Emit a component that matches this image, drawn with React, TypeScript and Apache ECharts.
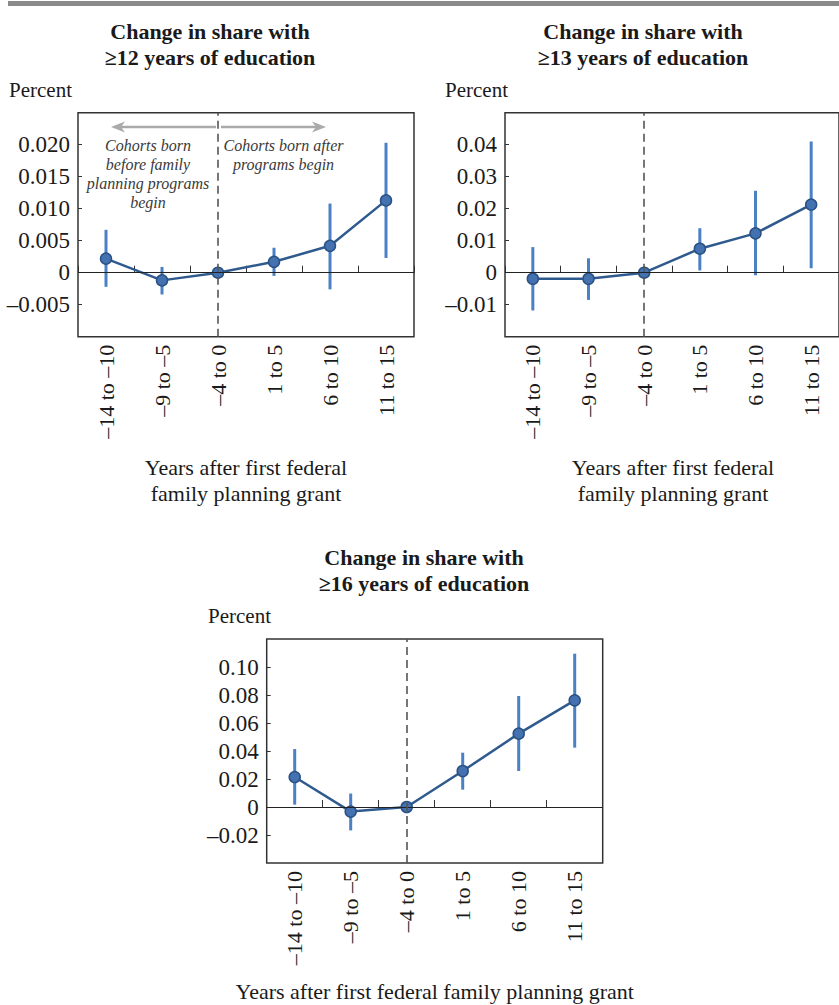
import React, { useEffect, useRef } from "react";
import * as echarts from "echarts";

const categories = ["–14 to –10", "–9 to –5", "–4 to 0", "1 to 5", "6 to 10", "11 to 15"];

const edu12 = [0.0022, -0.0012, 0, 0.0017, 0.0042, 0.0113];
const edu12Low = [-0.0022, -0.0034, 0, -0.0005, -0.0026, 0.0023];
const edu12High = [0.0067, 0.0009, 0, 0.0039, 0.0108, 0.0203];

const edu13 = [-0.0019, -0.0019, 0, 0.0075, 0.0123, 0.0213];
const edu13Low = [-0.0118, -0.0085, 0, 0.0007, -0.0008, 0.0014];
const edu13High = [0.008, 0.0045, 0, 0.0139, 0.0256, 0.041];

const edu16 = [0.0214, -0.0033, 0, 0.0257, 0.0524, 0.0762];
const edu16Low = [0.0017, -0.0167, 0, 0.0124, 0.0257, 0.0424];
const edu16High = [0.0414, 0.0096, 0, 0.0388, 0.0793, 0.1095];

const titles = [
  ["Change in share with", "≥12 years of education"],
  ["Change in share with", "≥13 years of education"],
  ["Change in share with", "≥16 years of education"],
];
const yAxisTitle = "Percent";
const xAxisTitleTwoLines = ["Years after first federal", "family planning grant"];
const xAxisTitleOneLine = "Years after first federal family planning grant";
const annotationLeft = ["Cohorts born", "before family", "planning programs", "begin"];
const annotationRight = ["Cohorts born after", "programs begin"];

const FONT = '"Liberation Serif", "Times New Roman", Times, serif';
const LINE_COLOR = "#2f5a8e";
const MARKER_FILL = "#4472b0";
const MARKER_BORDER = "#2a5184";
const BAR_COLOR = "#4a80c4";
const AXIS_COLOR = "#333";

const panels = [
  { values: edu12, low: edu12Low, high: edu12High, min: -0.01, max: 0.025, interval: 0.005, decimals: 3,
    grid: { left: 78, top: 112.7, width: 336, height: 224 } },
  { values: edu13, low: edu13Low, high: edu13High, min: -0.02, max: 0.05, interval: 0.01, decimals: 2,
    grid: { left: 505, top: 112.7, width: 336, height: 224 } },
  { values: edu16, low: edu16Low, high: edu16High, min: -0.04, max: 0.12, interval: 0.02, decimals: 2,
    grid: { left: 266.7, top: 639, width: 336, height: 224 } },
];

function txt(text: string, x: number, y: number, font: string, align = "center", fill = "#1a1a1a") {
  return {
    type: "text",
    x,
    y,
    silent: true,
    style: { text, font, fill, align, verticalAlign: "middle" },
  };
}

export default function App() {
  const ref = useRef<HTMLDivElement>(null);

  useEffect(() => {
    if (!ref.current) return;
    const chart = echarts.init(ref.current, undefined, { renderer: "svg" });

    const grids: any[] = [];
    const xAxes: any[] = [];
    const yAxes: any[] = [];
    const series: any[] = [];

    panels.forEach((p, k) => {
      grids.push({
        ...p.grid,
        show: true,
        borderColor: AXIS_COLOR,
        borderWidth: 1.5,
        backgroundColor: "transparent",
        containLabel: false,
      });
      xAxes.push({
        type: "category",
        gridIndex: k,
        data: categories,
        boundaryGap: true,
        axisLine: { show: false },
        axisTick: { show: true, inside: true, length: 7, interval: 0, lineStyle: { color: AXIS_COLOR, width: 1 } },
        axisLabel: { interval: 0, rotate: 90, margin: 8, fontFamily: FONT, fontSize: 22, color: "#1a1a1a" },
        splitLine: { show: false },
      });
      const { min, max, decimals } = p;
      yAxes.push({
        type: "value",
        gridIndex: k,
        min: p.min,
        max: p.max,
        interval: p.interval,
        axisLine: { show: false },
        axisTick: { show: true, inside: true, length: 4, lineStyle: { color: AXIS_COLOR, width: 1 } },
        splitLine: { show: false },
        axisLabel: {
          margin: 8,
          fontFamily: FONT,
          fontSize: 23,
          color: "#1a1a1a",
          showMinLabel: false,
          showMaxLabel: false,
          formatter: (v: number) => {
            if (Math.abs(v - min) < 1e-9 || Math.abs(v - max) < 1e-9) return "";
            if (Math.abs(v) < 1e-12) return "0";
            const s = Math.abs(v).toFixed(decimals);
            return v < 0 ? "–" + s : s;
          },
        },
      });
      series.push({
        type: "custom",
        xAxisIndex: k,
        yAxisIndex: k,
        z: 2,
        silent: true,
        data: categories.map((_, i) => [i, p.low[i], p.high[i]]),
        encode: { x: 0, y: [1, 2] },
        renderItem: (params: any, api: any) => {
          const i = api.value(0);
          const lo = api.value(1);
          const hi = api.value(2);
          if (lo === hi) return null;
          const a = api.coord([i, lo]);
          const b = api.coord([i, hi]);
          return {
            type: "line",
            shape: { x1: a[0], y1: a[1], x2: b[0], y2: b[1] },
            style: { stroke: BAR_COLOR, lineWidth: 3 },
          };
        },
        markLine: {
          silent: true,
          symbol: ["none", "none"],
          label: { show: false },
          animation: false,
          data: [
            { yAxis: 0, lineStyle: { color: "#222", width: 1.2, type: "solid" } },
            { xAxis: categories[2], lineStyle: { color: "#555", width: 1.6, type: [8, 5] } },
          ],
        },
      });
      series.push({
        type: "line",
        xAxisIndex: k,
        yAxisIndex: k,
        z: 3,
        data: p.values,
        symbol: "circle",
        symbolSize: 11,
        lineStyle: { color: LINE_COLOR, width: 2.5 },
        itemStyle: { color: MARKER_FILL, borderColor: MARKER_BORDER, borderWidth: 1.5 },
        emphasis: { disabled: true },
      });
    });

    const titleFont = `bold 22px ${FONT}`;
    const labelFont = `21px ${FONT}`;
    const nameFont = `22px ${FONT}`;
    const noteFont = `italic 16px ${FONT}`;
    const noteColor = "#3a3a3a";

    const graphic: any[] = [
      { type: "rect", silent: true, shape: { x: 8, y: 1, width: 831, height: 5 }, style: { fill: "#8a8a8a" } },
      // titles
      txt(titles[0][0], 210, 31.5, titleFont),
      txt(titles[0][1], 210, 57.5, titleFont),
      txt(titles[1][0], 643, 31.5, titleFont),
      txt(titles[1][1], 643, 57.5, titleFont),
      txt(titles[2][0], 424, 557, titleFont),
      txt(titles[2][1], 424, 583, titleFont),
      // y axis titles
      txt(yAxisTitle, 9, 89.5, labelFont, "left"),
      txt(yAxisTitle, 445, 89.5, labelFont, "left"),
      txt(yAxisTitle, 208, 616, labelFont, "left"),
      // x axis titles
      txt(xAxisTitleTwoLines[0], 246, 467.5, nameFont),
      txt(xAxisTitleTwoLines[1], 246, 493, nameFont),
      txt(xAxisTitleTwoLines[0], 673, 467.5, nameFont),
      txt(xAxisTitleTwoLines[1], 673, 493, nameFont),
      txt(xAxisTitleOneLine, 434.7, 991, nameFont),
      // annotation arrows
      { type: "line", silent: true, shape: { x1: 120, y1: 127, x2: 216, y2: 127 }, style: { stroke: "#aaa", lineWidth: 2.5 } },
      { type: "polygon", silent: true, shape: { points: [[111, 127], [125, 121.5], [121, 127], [125, 132.5]] }, style: { fill: "#aaa" } },
      { type: "line", silent: true, shape: { x1: 221, y1: 127, x2: 317, y2: 127 }, style: { stroke: "#aaa", lineWidth: 2.5 } },
      { type: "polygon", silent: true, shape: { points: [[326, 127], [312, 121.5], [316, 127], [312, 132.5]] }, style: { fill: "#aaa" } },
    ];
    annotationLeft.forEach((t, i) => graphic.push(txt(t, 148, 145 + i * 19.2, noteFont, "center", noteColor)));
    annotationRight.forEach((t, i) => graphic.push(txt(t, 283.5, 145 + i * 19.2, noteFont, "center", noteColor)));

    chart.setOption({
      animation: false,
      backgroundColor: "#fff",
      grid: grids,
      xAxis: xAxes,
      yAxis: yAxes,
      series,
      graphic,
    });

    return () => chart.dispose();
  }, []);

  return (
    <div
      ref={ref}
      style={{ position: "absolute", left: 0, top: 0, width: 839, height: 1005 }}
    />
  );
}
